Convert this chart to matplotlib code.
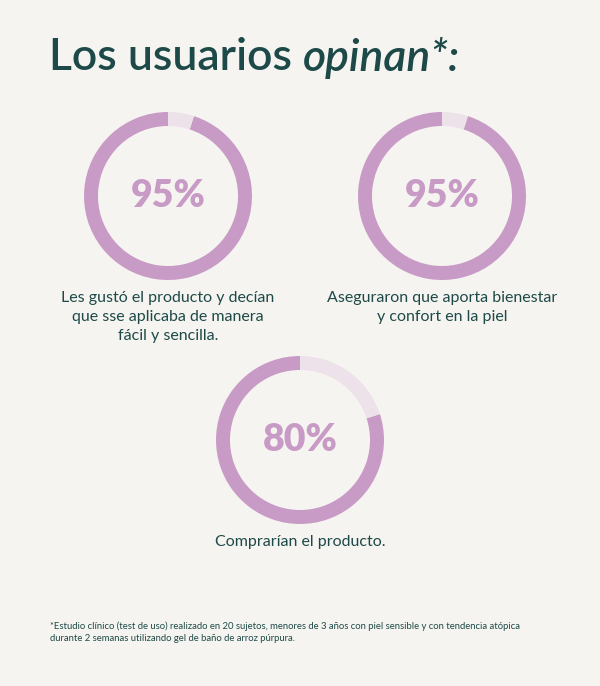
import matplotlib
matplotlib.use("Agg")
import matplotlib.pyplot as plt

percentages = [95, 95, 80]
labels = ["Les gustó el producto y decían\nque sse aplicaba de manera\nfácil y sencilla.",
          "Aseguraron que aporta bienestar\ny confort en la piel",
          "Comprarían el producto."]
title_plain = "Los usuarios "
title_italic = "opinan*:"
footnote = ("*Estudio clínico (test de uso) realizado en 20 sujetos, menores de 3 años con piel sensible y con tendencia atópica\n"
            "durante 2 semanas utilizando gel de baño de arroz púrpura.")

W, H = 600, 686
BG = "#f6f4f0"
DARK = "#1d4a48"
MAIN = "#c89bc6"
LIGHT = "#ede1ea"
plt.rcParams["font.family"] = "Lato"

fig = plt.figure(figsize=(W/100, H/100), dpi=100, facecolor=BG)

t1 = fig.text(49/W, 1-58/H, title_plain, fontsize=32, color=DARK, va="center", ha="left", fontweight="semibold")
fig.canvas.draw()
bb = t1.get_window_extent()
fig.text(bb.x1/W, 1-58/H, title_italic, fontsize=32, color=DARK, va="center", ha="left",
         style="italic", fontweight="semibold")

centers = [(168, 196), (442, 196), (300, 440)]
R = 84
for (cx, cy), p, lab in zip(centers, percentages, labels):
    ax = fig.add_axes([(cx-R)/W, (H-cy-R)/H, 2*R/W, 2*R/H])
    ax.set_facecolor(BG)
    ax.pie([p, 100-p], colors=[MAIN, LIGHT], startangle=90, counterclock=True,
           radius=1, wedgeprops=dict(width=14/R, edgecolor="none"))
    ax.set_xlim(-1, 1)
    ax.set_ylim(-1, 1)
    ax.set_aspect("equal")
    ax.axis("off")
    ax.text(0, 0, f"{p}%", ha="center", va="center", fontsize=27, fontweight="heavy", color=MAIN)
    fig.text(cx/W, 1-(cy+R+11)/H, lab, ha="center", va="top", fontsize=11.5, color=DARK, linespacing=1.45)

fig.text(50/W, 1-621/H, footnote, ha="left", va="top", fontsize=6.8, color=DARK, linespacing=1.5)

fig.savefig("out.png", dpi=100, facecolor=BG)
